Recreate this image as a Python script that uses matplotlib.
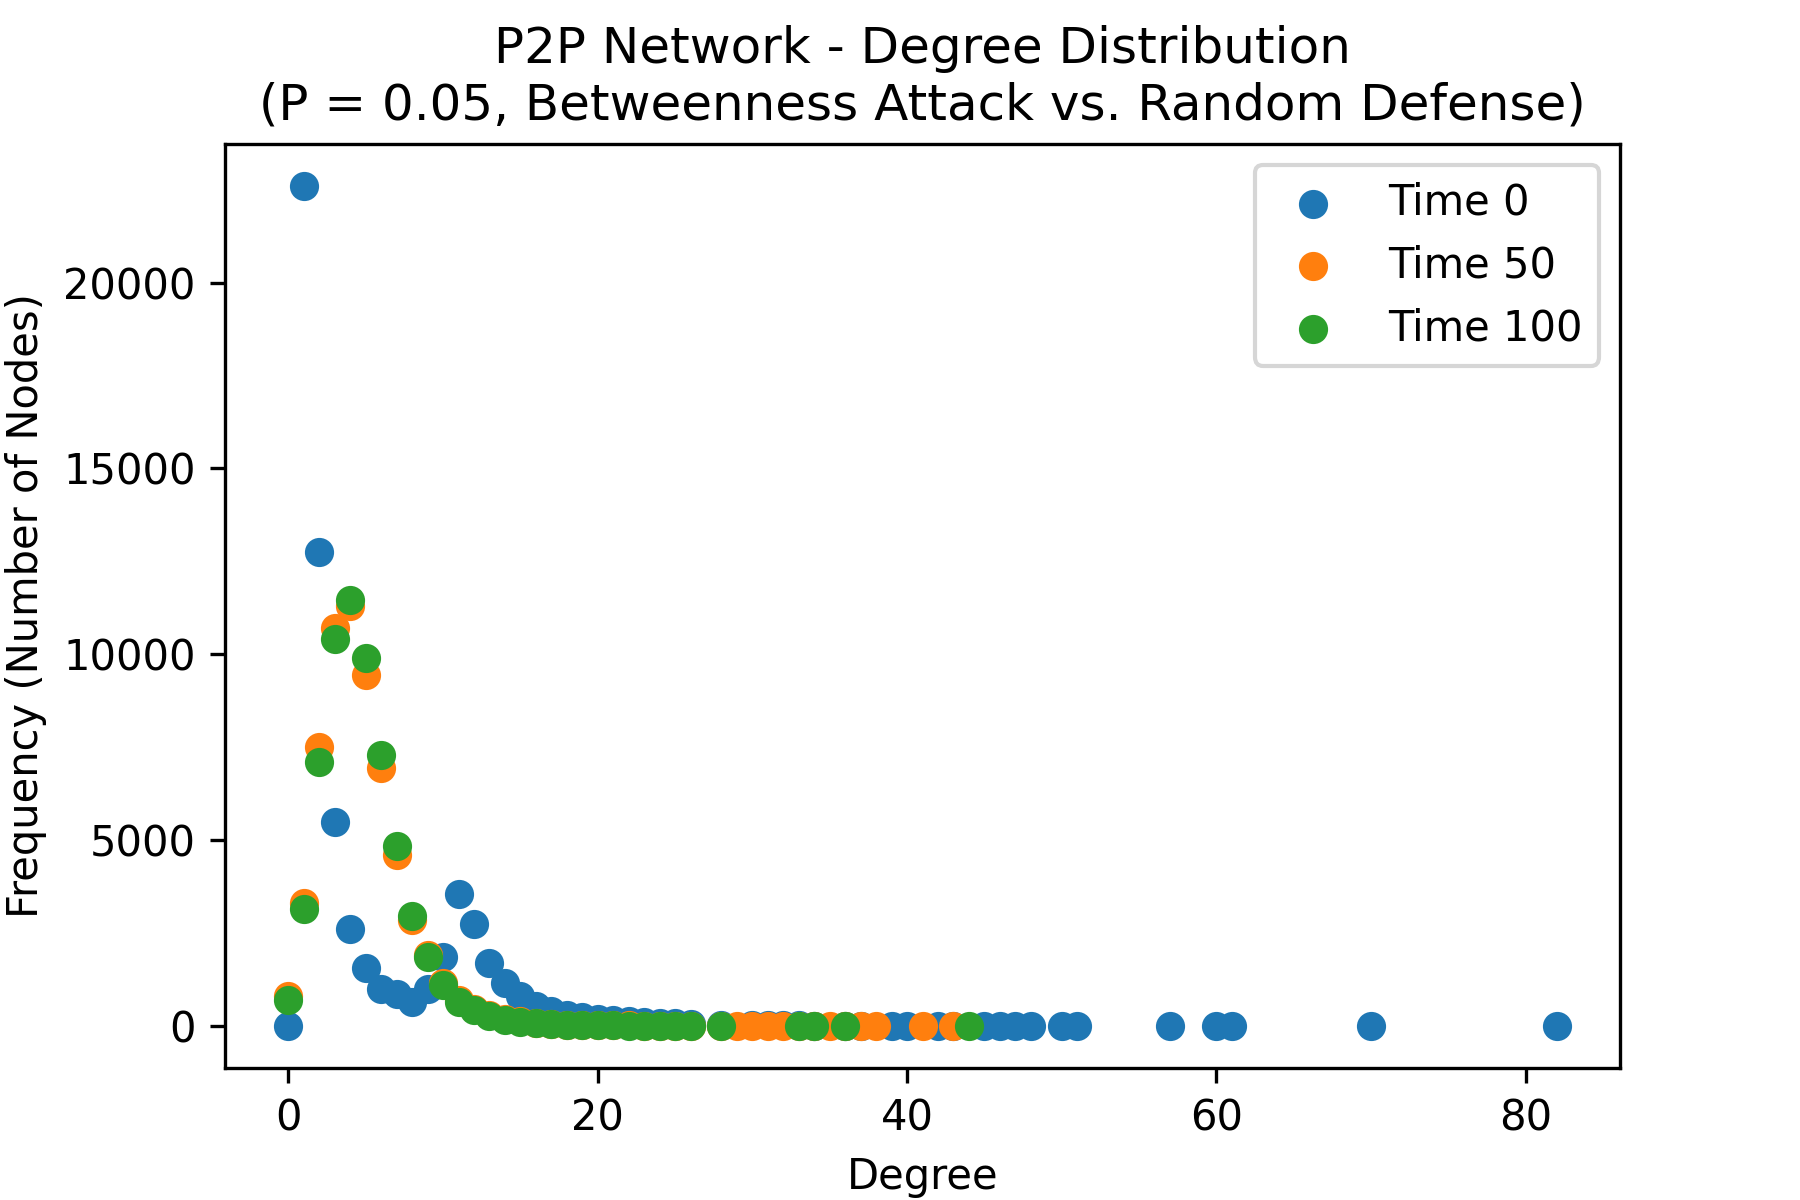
import matplotlib
matplotlib.use("Agg")
import matplotlib.pyplot as plt

# Time 0
deg0 = [0, 1, 2, 3, 4, 5, 6, 7, 8, 9, 10, 11, 12, 13, 14, 15, 16, 17, 18, 19, 20,
        21, 22, 23, 24, 25, 26, 28, 30, 31, 32, 33, 34, 36, 37, 39, 40, 42, 43, 45,
        46, 47, 48, 50, 51, 57, 60, 61, 70, 82]
freq0 = [0, 22600, 12750, 5500, 2600, 1550, 1000, 850, 650, 1000, 1850, 3550, 2750,
         1700, 1150, 800, 550, 400, 300, 250, 200, 150, 130, 100, 90, 80, 60, 40, 30,
         25, 20, 15, 12, 10, 8, 6, 5, 4, 3, 3, 2, 2, 2, 1, 1, 1, 1, 1, 1, 1]

# Time 50
deg50 = [0, 1, 2, 3, 4, 5, 6, 7, 8, 9, 10, 11, 12, 13, 14, 15, 16, 17, 18, 19, 20,
         21, 22, 23, 24, 25, 26, 28, 29, 30, 31, 32, 33, 34, 35, 36, 37, 38, 41, 43]
freq50 = [800, 3300, 7500, 10700, 11300, 9450, 6950, 4600, 2850, 1900, 1150, 700,
          450, 300, 200, 130, 90, 60, 40, 30, 25, 20, 15, 12, 10, 8, 6, 5, 4, 3, 3,
          2, 2, 2, 1, 1, 1, 1, 1, 1]

# Time 100
deg100 = [0, 1, 2, 3, 4, 5, 6, 7, 8, 9, 10, 11, 12, 13, 14, 15, 16, 17, 18, 19, 20,
          21, 22, 23, 24, 25, 26, 28, 33, 34, 36, 44]
freq100 = [700, 3150, 7100, 10400, 11450, 9900, 7300, 4850, 2950, 1850, 1100, 650,
           420, 260, 170, 110, 70, 50, 30, 25, 20, 15, 12, 10, 8, 6, 5, 3, 2, 1, 1, 1]

fig, ax = plt.subplots(figsize=(6, 4), dpi=300)
ax.scatter(deg0, freq0, label="Time 0")
ax.scatter(deg50, freq50, label="Time 50")
ax.scatter(deg100, freq100, label="Time 100")
ax.set_xlabel("Degree")
ax.set_ylabel("Frequency (Number of Nodes)")
ax.set_title("P2P Network - Degree Distribution\n(P = 0.05, Betweenness Attack vs. Random Defense)")
ax.legend()
plt.savefig("out.png")
